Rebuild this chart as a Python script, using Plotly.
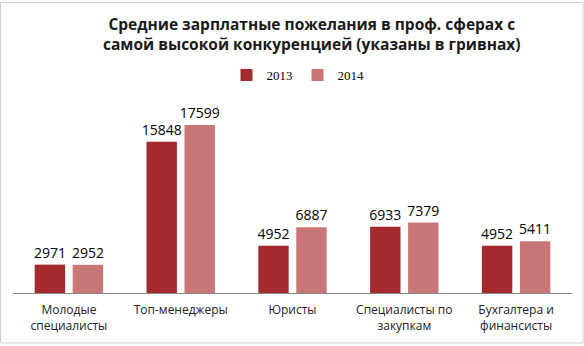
import plotly.graph_objects as go

categories = ["Молодые<br>специалисты", "Топ-менеджеры", "Юристы",
              "Специалисты по<br>закупкам", "Бухгалтера и<br>финансисты"]
values_2013 = [2971, 15848, 4952, 6933, 4952]
values_2014 = [2952, 17599, 6887, 7379, 5411]
series_names = ["2013", "2014"]
title_text = "Средние зарплатные пожелания в проф. сферах с<br>самой высокой конкуренцией (указаны в гривнах)"

W, H = 584, 346
ml, mr, mt, mb = 13, 12, 101, 52
pw, ph = W - ml - mr, H - mt - mb

fig = go.Figure()
fig.add_trace(go.Bar(
    x=categories, y=values_2013, name=series_names[0],
    marker=dict(color="#A52A2D", line=dict(width=0)),
    text=[str(v) for v in values_2013], textposition="outside",
    textfont=dict(family="Open Sans", size=14, color="#000000"),
    cliponaxis=False,
))
fig.add_trace(go.Bar(
    x=categories, y=values_2014, name=series_names[1],
    marker=dict(color="#C97677", line=dict(width=0)),
    text=[str(v) for v in values_2014], textposition="outside",
    textfont=dict(family="Open Sans", size=14, color="#000000"),
    cliponaxis=False,
))

def px_to_paper_x(px):
    return (px - ml) / pw

def px_to_paper_y(py):
    return (H - mb - py) / ph

# outer border of the chart
fig.add_shape(type="rect", xref="paper", yref="paper",
              x0=px_to_paper_x(0.5), x1=px_to_paper_x(583),
              y0=px_to_paper_y(344.5), y1=px_to_paper_y(0.5),
              line=dict(color="#D0D0D0", width=1), fillcolor="rgba(0,0,0,0)", layer="below")

# title
fig.add_annotation(text="<b>" + title_text + "</b>", xref="paper", yref="paper",
                   x=px_to_paper_x(312), y=px_to_paper_y(9), xanchor="center", yanchor="top",
                   showarrow=False, align="center",
                   font=dict(family="Open Sans", size=15.5, color="#1a1a1a"))

fig.update_layout(
    width=W, height=H,
    margin=dict(l=ml, r=mr, t=mt, b=mb, pad=0),
    paper_bgcolor="white", plot_bgcolor="white",
    barmode="group", bargap=0.32, bargroupgap=0.2,
    uniformtext=dict(minsize=14, mode="show"),
    legend=dict(orientation="h", x=298 / W, xanchor="center", xref="container",
                y=1 - 60 / H, yref="container", yanchor="top",
                font=dict(family="Liberation Serif", size=13, color="#000000"),
                itemwidth=30, traceorder="normal",
                bgcolor="rgba(0,0,0,0)"),
    showlegend=True,
    xaxis=dict(showline=True, linecolor="#868686", linewidth=1, ticks="",
               tickfont=dict(family="Open Sans", size=12, color="#222222"),
               ticklabelstandoff=6,
               showgrid=False, zeroline=False),
    yaxis=dict(range=[0, 20000], visible=False, showgrid=False, zeroline=False),
)

fig.write_html("out.html")
